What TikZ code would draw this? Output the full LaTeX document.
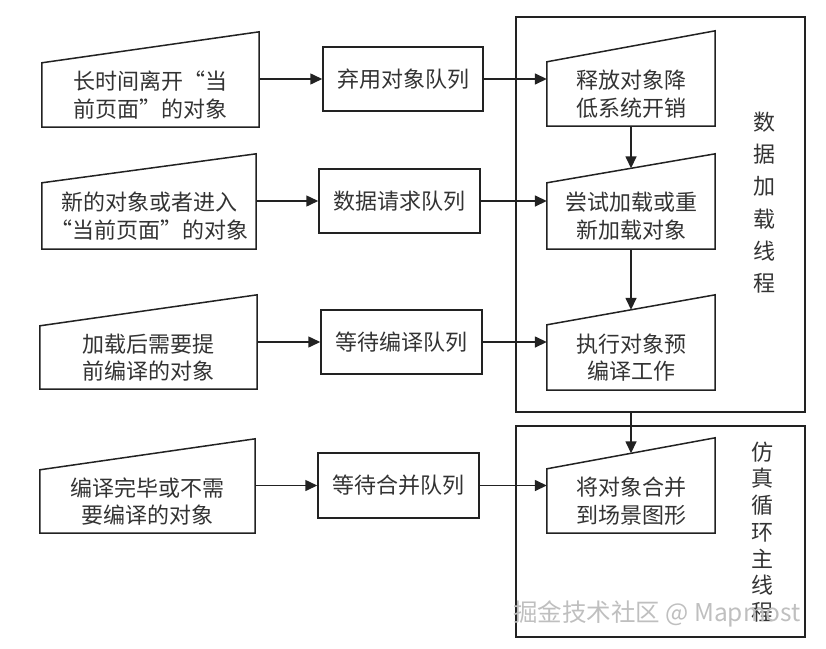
\documentclass[tikz,border=0pt]{standalone}
\usepackage{fontspec}
\setmainfont{Noto Sans CJK SC}
\usetikzlibrary{arrows.meta,calc}
\definecolor{ink}{HTML}{222222}
\definecolor{txt}{HTML}{333333}
\tikzset{
  base/.style={rectangle, inner sep=0pt, align=center, text=txt,
    font=\fontsize{22}{27.5}\selectfont},
  boxq/.style={base, draw=ink, line width=1.5pt},
  trapbody/.style={base},
  trapline/.style={draw=ink, line width=1.5pt, line join=miter},
  bigbox/.style={rectangle, draw=ink, line width=2pt, inner sep=0pt},
  arr/.style={draw=ink, line width=1.5pt, -{Triangle[length=12pt,width=11pt]}},
  vtext/.style={text=txt, inner sep=0pt, align=center, font=\fontsize{22}{32.3}\selectfont},
  vtextb/.style={text=txt, inner sep=0pt, align=center, font=\fontsize{22}{26.7}\selectfont},
  wmark/.style={text=gray!50, inner sep=0pt, font=\fontsize{24.5}{24.5}\selectfont}
}
\newcommand{\slantit}[2]{%
  \draw[trapline] (#1.south west) -- (#1.north west) -- ([yshift=#2pt]#1.north east) -- (#1.south east) -- cycle;}
\begin{document}
\begin{tikzpicture}[x=1pt,y=-1pt]
\useasboundingbox (0,0) rectangle (826,648);
% big boxes
\node[bigbox, minimum width=289pt, minimum height=395pt] (B1) at (660.5,214.5) {};
\node[bigbox, minimum width=289pt, minimum height=211pt] (B2) at (660.5,531.5) {};
% left input shapes
\node[trapbody, minimum width=217pt, minimum height=64pt] (t1) at (150.5,95) {长时间离开“当\\前页面”的对象};
\slantit{t1}{31}
\node[trapbody, minimum width=214pt, minimum height=66pt] (t2) at (149,216) {新的对象或者进入\\“当前页面”的对象};
\slantit{t2}{29}
\node[trapbody, minimum width=217pt, minimum height=63pt] (t3) at (148.5,357.5) {加载后需要提\\前编译的对象};
\slantit{t3}{31}
\node[trapbody, minimum width=215pt, minimum height=63pt] (t4) at (147.5,501.5) {编译完毕或不需\\要编译的对象};
\slantit{t4}{31}
% queues
\node[boxq, minimum width=160pt, minimum height=64pt] (r1) at (403,79) {弃用对象队列};
\node[boxq, minimum width=161pt, minimum height=64pt] (r2) at (399.5,201) {数据请求队列};
\node[boxq, minimum width=161pt, minimum height=64pt] (r3) at (401.5,342) {等待编译队列};
\node[boxq, minimum width=161pt, minimum height=65pt] (r4) at (398.5,485.5) {等待合并队列};
% right process shapes
\node[trapbody, minimum width=168pt, minimum height=64pt] (R1) at (631,94) {释放对象降\\低系统开销};
\slantit{R1}{31}
\node[trapbody, minimum width=168pt, minimum height=66pt] (R2) at (631,216) {尝试加载或重\\新加载对象};
\slantit{R2}{29}
\node[trapbody, minimum width=168pt, minimum height=65pt] (R3) at (631,357.5) {执行对象预\\编译工作};
\slantit{R3}{30}
\node[trapbody, minimum width=168pt, minimum height=64pt] (R4) at (631,501) {将对象合并\\到场景图形};
\slantit{R4}{31}
% thread labels
\node[vtext] (L1) at (764,202.5) {数\\据\\加\\载\\线\\程};
\node[vtextb] (L2) at (762,532) {仿\\真\\循\\环\\主\\线\\程};
% arrows left -> queues
\draw[arr] (r1.west -| t1.east) -- (r1.west);
\draw[arr] (r2.west -| t2.east) -- (r2.west);
\draw[arr] (r3.west -| t3.east) -- (r3.west);
\draw[arr] (r4.west -| t4.east) -- (r4.west);
% arrows queues -> process
\draw[arr] (r1.east) -- (r1.east -| R1.west);
\draw[arr] (r2.east) -- (r2.east -| R2.west);
\draw[arr] (r3.east) -- (r3.east -| R3.west);
\draw[arr] (r4.east) -- (r4.east -| R4.west);
% vertical arrows
\draw[arr] (R1.south) -- ([yshift=14.5pt]R2.north);
\draw[arr] (R2.south) -- ([yshift=15pt]R3.north);
\draw[arr] (R4.north |- B1.south) -- ([yshift=15.5pt]R4.north);
% watermark
\node[wmark] (wm) at (657,614) {掘金技术社区 @ Mapmost};
\end{tikzpicture}
\end{document}
